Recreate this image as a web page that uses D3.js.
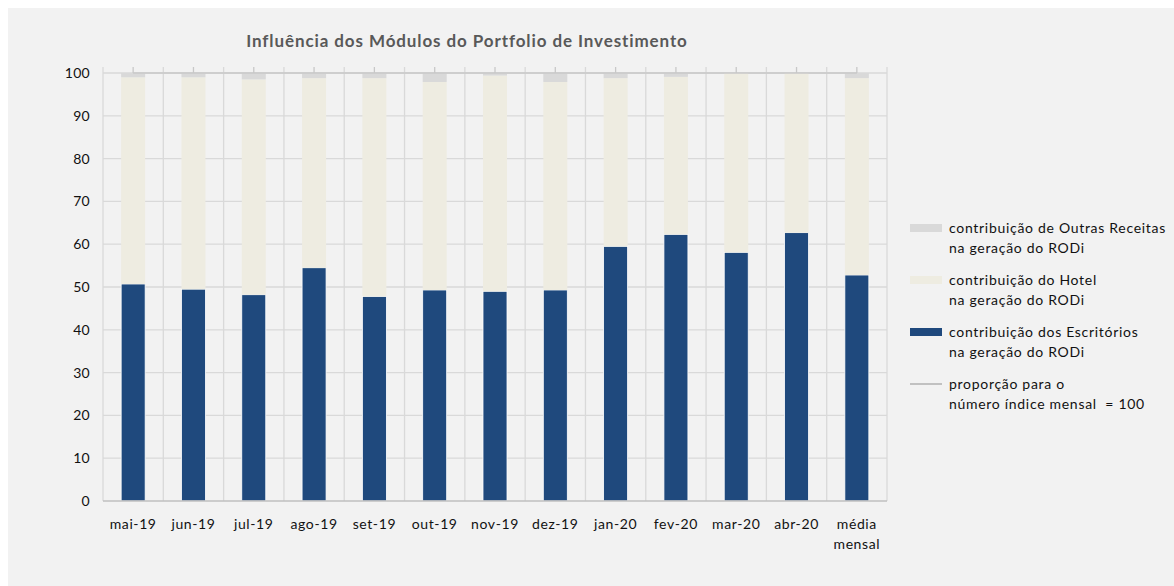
<!DOCTYPE html>
<html>
<head>
<meta charset="utf-8">
<script src="https://cdn.jsdelivr.net/npm/d3@7"></script>
<style>
  body { margin: 0; background: #fff; }
  svg { display: block; font-family: Lato, "Open Sans", sans-serif; }
</style>
</head>
<body>
<svg width="1174" height="586"></svg>
<script>
const categories = ["mai-19", "jun-19", "jul-19", "ago-19", "set-19", "out-19", "nov-19", "dez-19", "jan-20", "fev-20", "mar-20", "abr-20", "média mensal"];
const escritorios = [50.7, 49.5, 48.2, 54.5, 47.8, 49.3, 49.0, 49.3, 59.5, 62.3, 58.1, 62.7, 52.8];
const outras = [1.0, 1.0, 1.5, 1.2, 1.2, 2.1, 0.6, 2.1, 1.2, 0.9, 0.0, 0.0, 1.2];
const hotel = escritorios.map((d, i) => 100 - d - outras[i]);
const indice = categories.map(() => 100);
const yTicks = [0, 10, 20, 30, 40, 50, 60, 70, 80, 90, 100];

const seriesNames = ["escritorios", "hotel", "outras"];
const colors = {escritorios: "#1f497d", hotel: "#eeece1", outras: "#d9d9d9"};

const svg = d3.select("svg");
const width = +svg.attr("width"), height = +svg.attr("height");

svg.append("rect")
  .attr("x", 8).attr("y", 8)
  .attr("width", width - 8).attr("height", height - 8)
  .attr("fill", "#f2f2f2");

const margin = {left: 103, right: 887, top: 73, bottom: 501};

const x = d3.scaleBand()
  .domain(categories)
  .range([margin.left, margin.right])
  .paddingInner(0).paddingOuter(0);

const y = d3.scaleLinear()
  .domain([0, 100])
  .range([margin.bottom, margin.top]);

// gridlines
svg.append("g")
  .selectAll("line")
  .data(yTicks.filter(d => d > 0))
  .join("line")
    .attr("x1", margin.left).attr("x2", margin.right)
    .attr("y1", d => y(d)).attr("y2", d => y(d))
    .attr("stroke", "#d9d9d9").attr("stroke-width", 1.3);

const edges = categories.map(c => x(c)).concat([margin.right]);
svg.append("g")
  .selectAll("line")
  .data(edges)
  .join("line")
    .attr("x1", d => d).attr("x2", d => d)
    .attr("y1", y(101.4)).attr("y2", y(0))
    .attr("stroke", "#d9d9d9").attr("stroke-width", 1.3);

// stacked bars
const rows = categories.map((c, i) => ({cat: c, escritorios: escritorios[i], hotel: hotel[i], outras: outras[i]}));
const stack = d3.stack().keys(seriesNames)(rows);

const bw = 24;
svg.append("g")
  .selectAll("g")
  .data(stack)
  .join("g")
    .attr("fill", d => colors[d.key])
  .selectAll("rect")
  .data(d => d.map(p => Object.assign(p, {key: d.key})))
  .join("rect")
    .attr("x", d => x(d.data.cat) + x.bandwidth() / 2 - bw / 2)
    .attr("width", bw)
    .attr("y", d => y(d[1]))
    .attr("height", d => y(d[0]) - y(d[1]))
    .attr("stroke", d => d.key === "escritorios" ? "#fff" : "none")
    .attr("stroke-width", 0.8);

// line at 100 with tick markers
svg.append("path")
  .datum(indice)
  .attr("fill", "none")
  .attr("stroke", "#c8c8c8")
  .attr("stroke-width", 1.3)
  .attr("d", d3.line().x((d, i) => x(categories[i]) + x.bandwidth() / 2).y(d => y(d)));

svg.append("g")
  .selectAll("line")
  .data(indice)
  .join("line")
    .attr("x1", (d, i) => x(categories[i]) + x.bandwidth() / 2)
    .attr("x2", (d, i) => x(categories[i]) + x.bandwidth() / 2)
    .attr("y1", d => y(d) - 6).attr("y2", d => y(d))
    .attr("stroke", "#c8c8c8").attr("stroke-width", 1.3);

// x axis line
svg.append("line")
  .attr("x1", margin.left).attr("x2", margin.right)
  .attr("y1", y(0)).attr("y2", y(0))
  .attr("stroke", "#bfbfbf").attr("stroke-width", 1.5);

// y labels
svg.append("g")
  .selectAll("text")
  .data(yTicks)
  .join("text")
    .attr("x", 90)
    .attr("y", d => y(d))
    .attr("dy", "0.35em")
    .attr("text-anchor", "end")
    .attr("font-size", 14)
    .attr("letter-spacing", 0.3)
    .attr("fill", "#111")
    .text(d => d);

// x labels
svg.append("g")
  .selectAll("text")
  .data(categories)
  .join("text")
    .attr("x", d => x(d) + x.bandwidth() / 2)
    .attr("y", 529)
    .attr("text-anchor", "middle")
    .attr("font-size", 14)
    .attr("letter-spacing", 0.6)
    .attr("fill", "#111")
    .each(function(d) {
      const parts = d.split(" ");
      d3.select(this).selectAll("tspan")
        .data(parts)
        .join("tspan")
          .attr("x", x(d) + x.bandwidth() / 2)
          .attr("dy", (p, i) => i ? 20 : 0)
          .text(p => p);
    });

// title
svg.append("text")
  .attr("x", 467).attr("y", 47)
  .attr("text-anchor", "middle")
  .attr("font-size", 17)
  .attr("letter-spacing", 0.9)
  .attr("font-weight", "bold")
  .attr("fill", "#595959")
  .text("Influência dos Módulos do Portfolio de Investimento");

// legend
const legendItems = [
  {key: "outras", lines: ["contribuição de Outras Receitas", "na geração do RODi"]},
  {key: "hotel", lines: ["contribuição do Hotel", "na geração do RODi"]},
  {key: "escritorios", lines: ["contribuição dos Escritórios", "na geração do RODi"]},
  {key: "line", lines: ["proporção para o", "número índice mensal  = 100"]}
];

const legend = svg.append("g");
legendItems.forEach((item, i) => {
  const g = legend.append("g").attr("transform", `translate(0, ${228 + i * 52})`);
  if (item.key === "line") {
    g.append("line")
      .attr("x1", 910).attr("x2", 942).attr("y1", 0).attr("y2", 0)
      .attr("stroke", "#a6a6a6").attr("stroke-width", 1.3);
  } else {
    g.append("rect")
      .attr("x", 910).attr("y", -4).attr("width", 32).attr("height", 8)
      .attr("fill", colors[item.key]);
  }
  g.append("text")
    .attr("x", 949).attr("y", 0)
    .attr("font-size", 14)
    .attr("letter-spacing", 0.7)
    .attr("fill", "#111")
    .attr("xml:space", "preserve")
    .selectAll("tspan")
    .data(item.lines)
    .join("tspan")
      .attr("x", 949)
      .attr("dy", (d, j) => j ? 20 : 5)
      .text(d => d);
});
</script>
</body>
</html>
